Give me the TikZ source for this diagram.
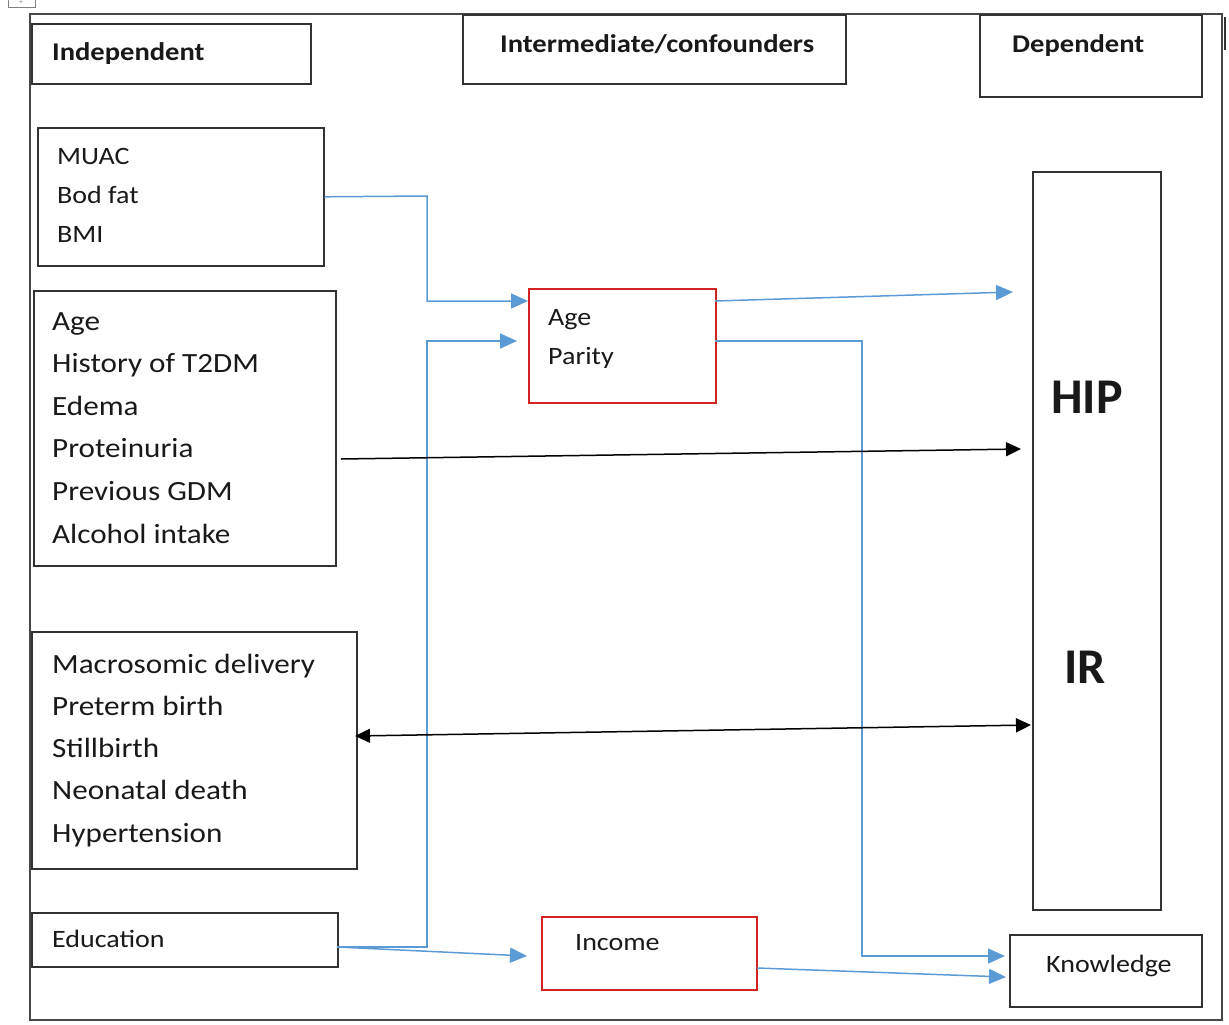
\documentclass[tikz,border=0pt]{standalone}
\usepackage{fontspec}
\setmainfont{Carlito}[FakeStretch=1.12]
\newfontfamily\plainfont{Carlito}
\usetikzlibrary{arrows.meta}
\definecolor{lineblue}{RGB}{91,155,213}
\definecolor{boxred}{RGB}{210,35,35}
\definecolor{boxgray}{RGB}{50,50,50}
\tikzset{
  box/.style={draw=boxgray, line width=1.6pt, inner sep=0pt, anchor=north west},
  redbox/.style={draw=boxred, line width=1.6pt, inner sep=0pt, anchor=north west},
  lbl/.style={inner sep=0pt, anchor=base west, text=black!90},
  hdr/.style={lbl, font=\fontsize{25.5}{30}\selectfont\bfseries},
  small/.style={lbl, font=\fontsize{25}{30}\selectfont},
  big/.style={lbl, font=\fontsize{27.8}{33}\selectfont},
  huge/.style={lbl, font=\plainfont\fontsize{50}{60}\selectfont\bfseries},
  bluearrow/.style={draw=lineblue, line width=1.5pt, -{Triangle[length=17pt,width=15pt]}},
  blackarrow/.style={draw=black, line width=1.5pt, -{Triangle[length=15pt,width=14pt]}},
  blackdouble/.style={draw=black, line width=1.5pt, {Triangle[length=15pt,width=14pt]}-{Triangle[length=15pt,width=14pt]}}
}
\begin{document}
\begin{tikzpicture}[x=1pt, y=-1pt]
\useasboundingbox (0,0) rectangle (1229,1025);
% outer frame and small artifacts
\draw[draw=boxgray!90, line width=1.6pt] (30,14) rectangle (1222,1020);
\draw[draw=gray, line width=0.8pt] (8,0) -- (8,7) -- (35,7) -- (35,0);
\node[inner sep=0pt, font=\fontsize{7}{8}\selectfont, text=gray] (handle) at (21,3) {+};
\draw[draw=boxgray, line width=1.5pt] (1225,17) -- (1225,50);

% header boxes
\node[box, minimum width=279pt, minimum height=60pt] (indepbox) at (31,23) {};
\node[hdr] (indep) at (52,61) {Independent};
\node[box, minimum width=383pt, minimum height=69pt] (interbox) at (462,14) {};
\node[hdr] (inter) at (500,53) {Intermediate/confounders};
\node[box, minimum width=222pt, minimum height=82pt] (depbox) at (979,14) {};
\node[hdr] (dep) at (1012,53) {Dependent};

% left boxes
\node[box, minimum width=286pt, minimum height=138pt] (muac) at (37,127) {};
\foreach \t [count=\i] in {MUAC, Bod fat, BMI}
  \node[small] (muac-\i) at (57,{164+39*(\i-1)}) {\t};

\node[box, minimum width=302pt, minimum height=275pt] (agebox) at (33,290) {};
\foreach \t [count=\i] in {Age, History of T2DM, Edema, Proteinuria, Previous GDM, Alcohol intake}
  \node[big] (age-\i) at (52,{330+42.6*(\i-1)}) {\t};

\node[box, minimum width=325pt, minimum height=237pt] (macro) at (31,631) {};
\foreach \t [count=\i] in {Macrosomic delivery, Preterm birth, Stillbirth, Neonatal death, Hypertension}
  \node[big] (macro-\i) at (52,{673+42.3*(\i-1)}) {\t};

\node[box, minimum width=306pt, minimum height=54pt] (edu) at (31,912) {};
\node[small] (edu-t) at (52,947) {Education};

% intermediate boxes
\node[redbox, minimum width=187pt, minimum height=114pt] (ap) at (528,288) {};
\node[small] (ap-1) at (548,325) {Age};
\node[small] (ap-2) at (548,364) {Parity};

\node[redbox, minimum width=215pt, minimum height=73pt] (inc) at (541,916) {};
\node[small] (inc-t) at (575,950) {Income};

% dependent boxes
\node[box, minimum width=128pt, minimum height=738pt] (hipir) at (1032,171) {};
\node[huge] (hip) at (1051,413) {HIP};
\node[huge] (ir) at (1064,683) {IR};

\node[box, minimum width=192pt, minimum height=72pt] (know) at (1009,934) {};
\node[small] (know-t) at (1046,972) {Knowledge};

% connectors
\coordinate (apin1) at (528,301);
\coordinate (apin2) at (517,341);
\coordinate (apout1) at (715,301);
\coordinate (apout2) at (715,341);
\coordinate (eduout) at (337,947);
\coordinate (incin) at (527,956);
\coordinate (incout) at (757,968);
\coordinate (hipin) at (1013,292);
\coordinate (knowin1) at (1005,956);
\coordinate (knowin2) at (1006,977);

\draw[bluearrow] (muac.east) -- (427,196) -- (427,301) -- (apin1);
\draw[bluearrow] (eduout) -- (427,947) -- (427,341) -- (apin2);
\draw[bluearrow] (eduout) -- (incin);
\draw[bluearrow] (apout1) -- (hipin);
\draw[bluearrow] (apout2) -- (862,341) -- (862,956) -- (knowin1);
\draw[bluearrow] (incout) -- (knowin2);

\coordinate (ageout) at (341,459);
\coordinate (hipin2) at (1021,449);
\draw[blackarrow] (ageout) -- (hipin2);
\coordinate (macroend) at (355,736);
\coordinate (irend) at (1031,725);
\draw[blackdouble] (macroend) -- (irend);
\end{tikzpicture}
\end{document}
